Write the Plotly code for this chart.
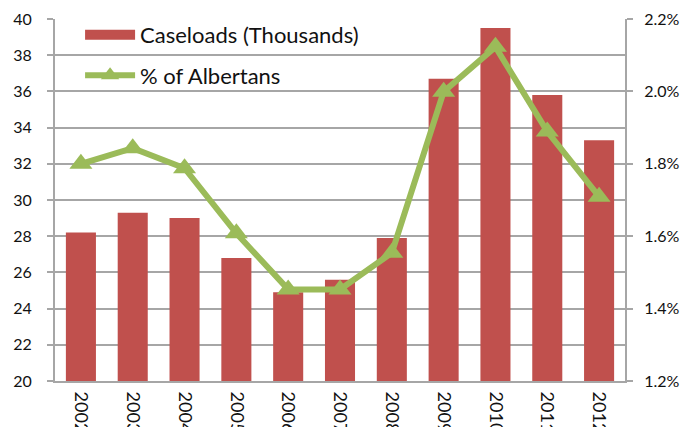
import plotly.graph_objects as go

years = ["2002", "2003", "2004", "2005", "2006", "2007", "2008", "2009", "2010", "2011", "2012"]
caseloads = [28.2, 29.3, 29.0, 26.8, 24.9, 25.6, 27.9, 36.7, 39.5, 35.8, 33.3]
pct_albertans = [1.800, 1.843, 1.788, 1.608, 1.453, 1.453, 1.554, 1.999, 2.123, 1.889, 1.709]
left_ticks = [20, 22, 24, 26, 28, 30, 32, 34, 36, 38, 40]
right_ticks = [1.2, 1.4, 1.6, 1.8, 2.0, 2.2]

BAR = "#C0504D"
LINE = "#9BBB59"
GRID = "#A6A6A6"
FONT = "Lato"

fig = go.Figure()
fig.add_trace(go.Bar(
    x=years, y=caseloads, name="Caseloads (Thousands)",
    marker=dict(color=BAR, line=dict(width=0)),
    yaxis="y", showlegend=False,
))
# legend entry for the bars drawn as a wide swatch
fig.add_trace(go.Scatter(
    x=[None], y=[None], name="Caseloads (Thousands)",
    mode="lines", line=dict(color=BAR, width=10),
    legendgroup="a", showlegend=True, hoverinfo="skip",
))
fig.add_trace(go.Scatter(
    x=years, y=pct_albertans, name="% of Albertans",
    mode="lines+markers",
    line=dict(color=LINE, width=6),
    marker=dict(symbol="triangle-up", size=20, color=LINE),
    yaxis="y2", legendgroup="b",
))

fig.update_layout(
    width=696, height=427,
    margin=dict(l=47, r=79, t=11, b=54, autoexpand=False),
    paper_bgcolor="white", plot_bgcolor="white",
    bargap=0.42,
    font=dict(family=FONT, size=16, color="#111111"),
    showlegend=True,
    legend=dict(
        x=0.044, y=1.014, xanchor="left", yanchor="top",
        bgcolor="rgba(0,0,0,0)",
        font=dict(family=FONT, size=22, color="#111111"),
        itemwidth=50, tracegroupgap=9,
        traceorder="grouped",
    ),
    xaxis=dict(
        type="category", tickangle=90,
        range=[-0.5, len(years) - 0.5],
        showline=True, linecolor=GRID, linewidth=2,
        ticks="", showgrid=False,
        tickfont=dict(family=FONT, size=18),
        ticklabelstandoff=5,
        automargin=False,
    ),
    yaxis=dict(
        range=[20, 40], tickvals=left_ticks,
        showgrid=True, gridcolor=GRID, gridwidth=1.5,
        showline=True, linecolor=GRID, linewidth=2,
        ticks="outside", ticklen=6, tickcolor=GRID, tickwidth=1.5,
        ticklabelstandoff=12,
        zeroline=False, automargin=False,
    ),
    yaxis2=dict(
        range=[1.2, 2.2], tickvals=right_ticks,
        ticktext=[f"{v:.1f}%" for v in right_ticks],
        overlaying="y", side="right",
        showgrid=False,
        showline=True, linecolor=GRID, linewidth=2,
        ticks="outside", ticklen=6, tickcolor=GRID, tickwidth=1.5,
        ticklabelstandoff=8,
        zeroline=False, automargin=False,
    ),
)

fig.write_html("out.html")
